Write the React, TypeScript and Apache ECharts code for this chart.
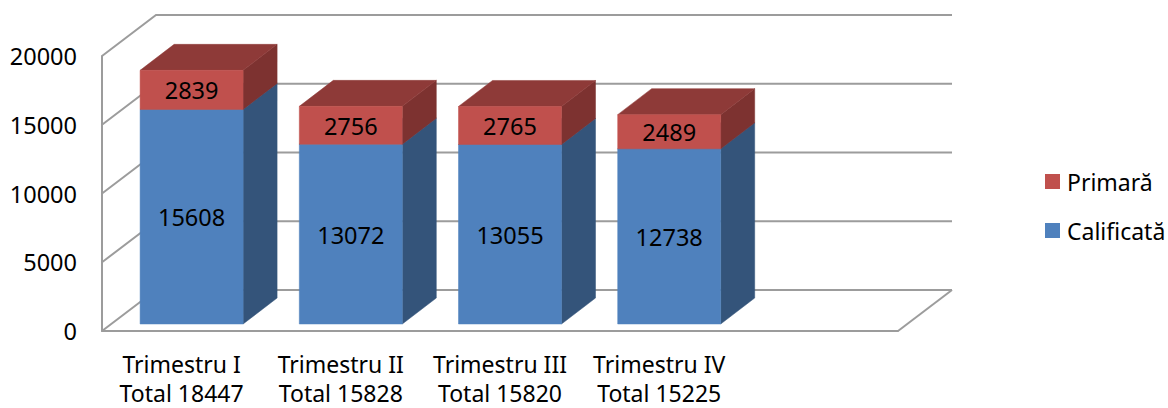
import React, { useEffect, useRef } from "react";
import * as echarts from "echarts";

const quarters = ["Trimestru I", "Trimestru II", "Trimestru III", "Trimestru IV", ""];
const totals = ["18447", "15828", "15820", "15225", ""];
const calificata = [15608, 13072, 13055, 12738];
const primara = [2839, 2756, 2765, 2489];
const yTicks = [0, 5000, 10000, 15000, 20000];

const FONT = "'Noto Sans'";
const FS = 23.5;
const GRID = "#9c9c9c";
const WALL_DX = 54, WALL_DY = -41;
const BAR_DX = 34, BAR_DY = -26;
const BAR_W = 103, BAR_SHIFT_X = 10, BAR_SHIFT_Y = -7;

const xLabels = quarters.map((q, i) => (q ? `${q}\nTotal ${totals[i]}` : ""));

function barRender(front: string, top: string, side: string) {
  return (_params: any, api: any) => {
    const i = api.value(0);
    const b = api.coord([i, api.value(1)]);
    const t = api.coord([i, api.value(2)]);
    const x0 = b[0] + BAR_SHIFT_X - BAR_W / 2;
    const x1 = x0 + BAR_W;
    const y0 = b[1] + BAR_SHIFT_Y;
    const y1 = t[1] + BAR_SHIFT_Y;
    const poly = (points: number[][], fill: string) => ({
      type: "polygon",
      shape: { points },
      style: { fill, stroke: fill, lineWidth: 0.5 },
    });
    return {
      type: "group",
      children: [
        poly([[x1, y0], [x1 + BAR_DX, y0 + BAR_DY], [x1 + BAR_DX, y1 + BAR_DY], [x1, y1]], side),
        poly([[x0, y1], [x1, y1], [x1 + BAR_DX, y1 + BAR_DY], [x0 + BAR_DX, y1 + BAR_DY]], top),
        poly([[x0, y0], [x1, y0], [x1, y1], [x0, y1]], front),
        {
          type: "text",
          x: (x0 + x1) / 2,
          y: (y0 + y1) / 2 + 0.5,
          style: {
            text: String(api.value(3)),
            font: `${FS}px ${FONT}`,
            fill: "#000",
            align: "center",
            verticalAlign: "middle",
          },
        },
      ],
    };
  };
}

function wallRender(params: any, api: any) {
  const cs = params.coordSys;
  const y = api.coord([0, api.value(0)])[1];
  const lx = cs.x;
  const rx = cs.x + cs.width;
  const style = { stroke: GRID, lineWidth: 2, fill: "none" };
  const children: any[] = [
    { type: "polyline", shape: { points: [[lx, y], [lx + WALL_DX, y + WALL_DY], [rx + WALL_DX, y + WALL_DY]] }, style },
  ];
  if (api.value(0) === 0) {
    children.push({ type: "line", shape: { x1: rx, y1: y, x2: rx + WALL_DX, y2: y + WALL_DY }, style });
  }
  return { type: "group", children };
}

export default function App() {
  const ref = useRef<HTMLDivElement>(null);
  useEffect(() => {
    document.body.style.margin = "0";
    const chart = echarts.init(ref.current!, null, { renderer: "svg" });
    chart.setOption({
      animation: false,
      textStyle: { fontFamily: "Noto Sans" },
      grid: { left: 102, top: 56, width: 796, height: 275, containLabel: false, outerBoundsMode: "none" },
      legend: {
        data: ["Primară", "Calificată"],
        orient: "vertical",
        left: 1045,
        top: 170,
        padding: 0,
        itemWidth: 15,
        itemHeight: 15,
        itemGap: 26,
        selectedMode: false,
        icon: "rect",
        textStyle: { fontFamily: "Noto Sans", fontSize: 23, color: "#000", padding: [0, 0, 0, 2] },
      },
      xAxis: {
        type: "category",
        data: xLabels,
        axisLine: { show: true, lineStyle: { color: GRID, width: 2 } },
        axisTick: { show: false },
        axisLabel: {
          fontFamily: "Noto Sans",
          fontSize: 23,
          color: "#000",
          lineHeight: 29,
          margin: 18,
          interval: 0,
        },
      },
      yAxis: {
        type: "value",
        min: 0,
        max: 20000,
        interval: 5000,
        splitLine: { show: false },
        axisTick: { show: false },
        axisLine: { show: true, lineStyle: { color: GRID, width: 2 } },
        axisLabel: {
          fontFamily: "Noto Sans",
          fontSize: FS,
          color: "#000",
          margin: 25,
          padding: [3, 0, 0, 0],
          formatter: (v: number) => String(v),
        },
      },
      series: [
        {
          name: "walls",
          type: "custom",
          z: 1,
          silent: true,
          clip: false,
          renderItem: wallRender,
          encode: { y: 0 },
          data: yTicks.map((v) => [v]),
        },
        {
          name: "Calificată",
          type: "custom",
          z: 2,
          clip: false,
          itemStyle: { color: "#4F81BD" },
          renderItem: barRender("#4F81BD", "#3A6290", "#34547A"),
          encode: { x: 0, y: [1, 2] },
          data: calificata.map((v, i) => [i, 0, v, v]),
        },
        {
          name: "Primară",
          type: "custom",
          z: 3,
          clip: false,
          itemStyle: { color: "#C0504D" },
          renderItem: barRender("#C0504D", "#8E3A38", "#7D3230"),
          encode: { x: 0, y: [1, 2] },
          data: primara.map((v, i) => [i, calificata[i], calificata[i] + v, v]),
        },
      ],
    });
    return () => chart.dispose();
  }, []);
  return <div ref={ref} style={{ width: 1168, height: 408 }} />;
}
